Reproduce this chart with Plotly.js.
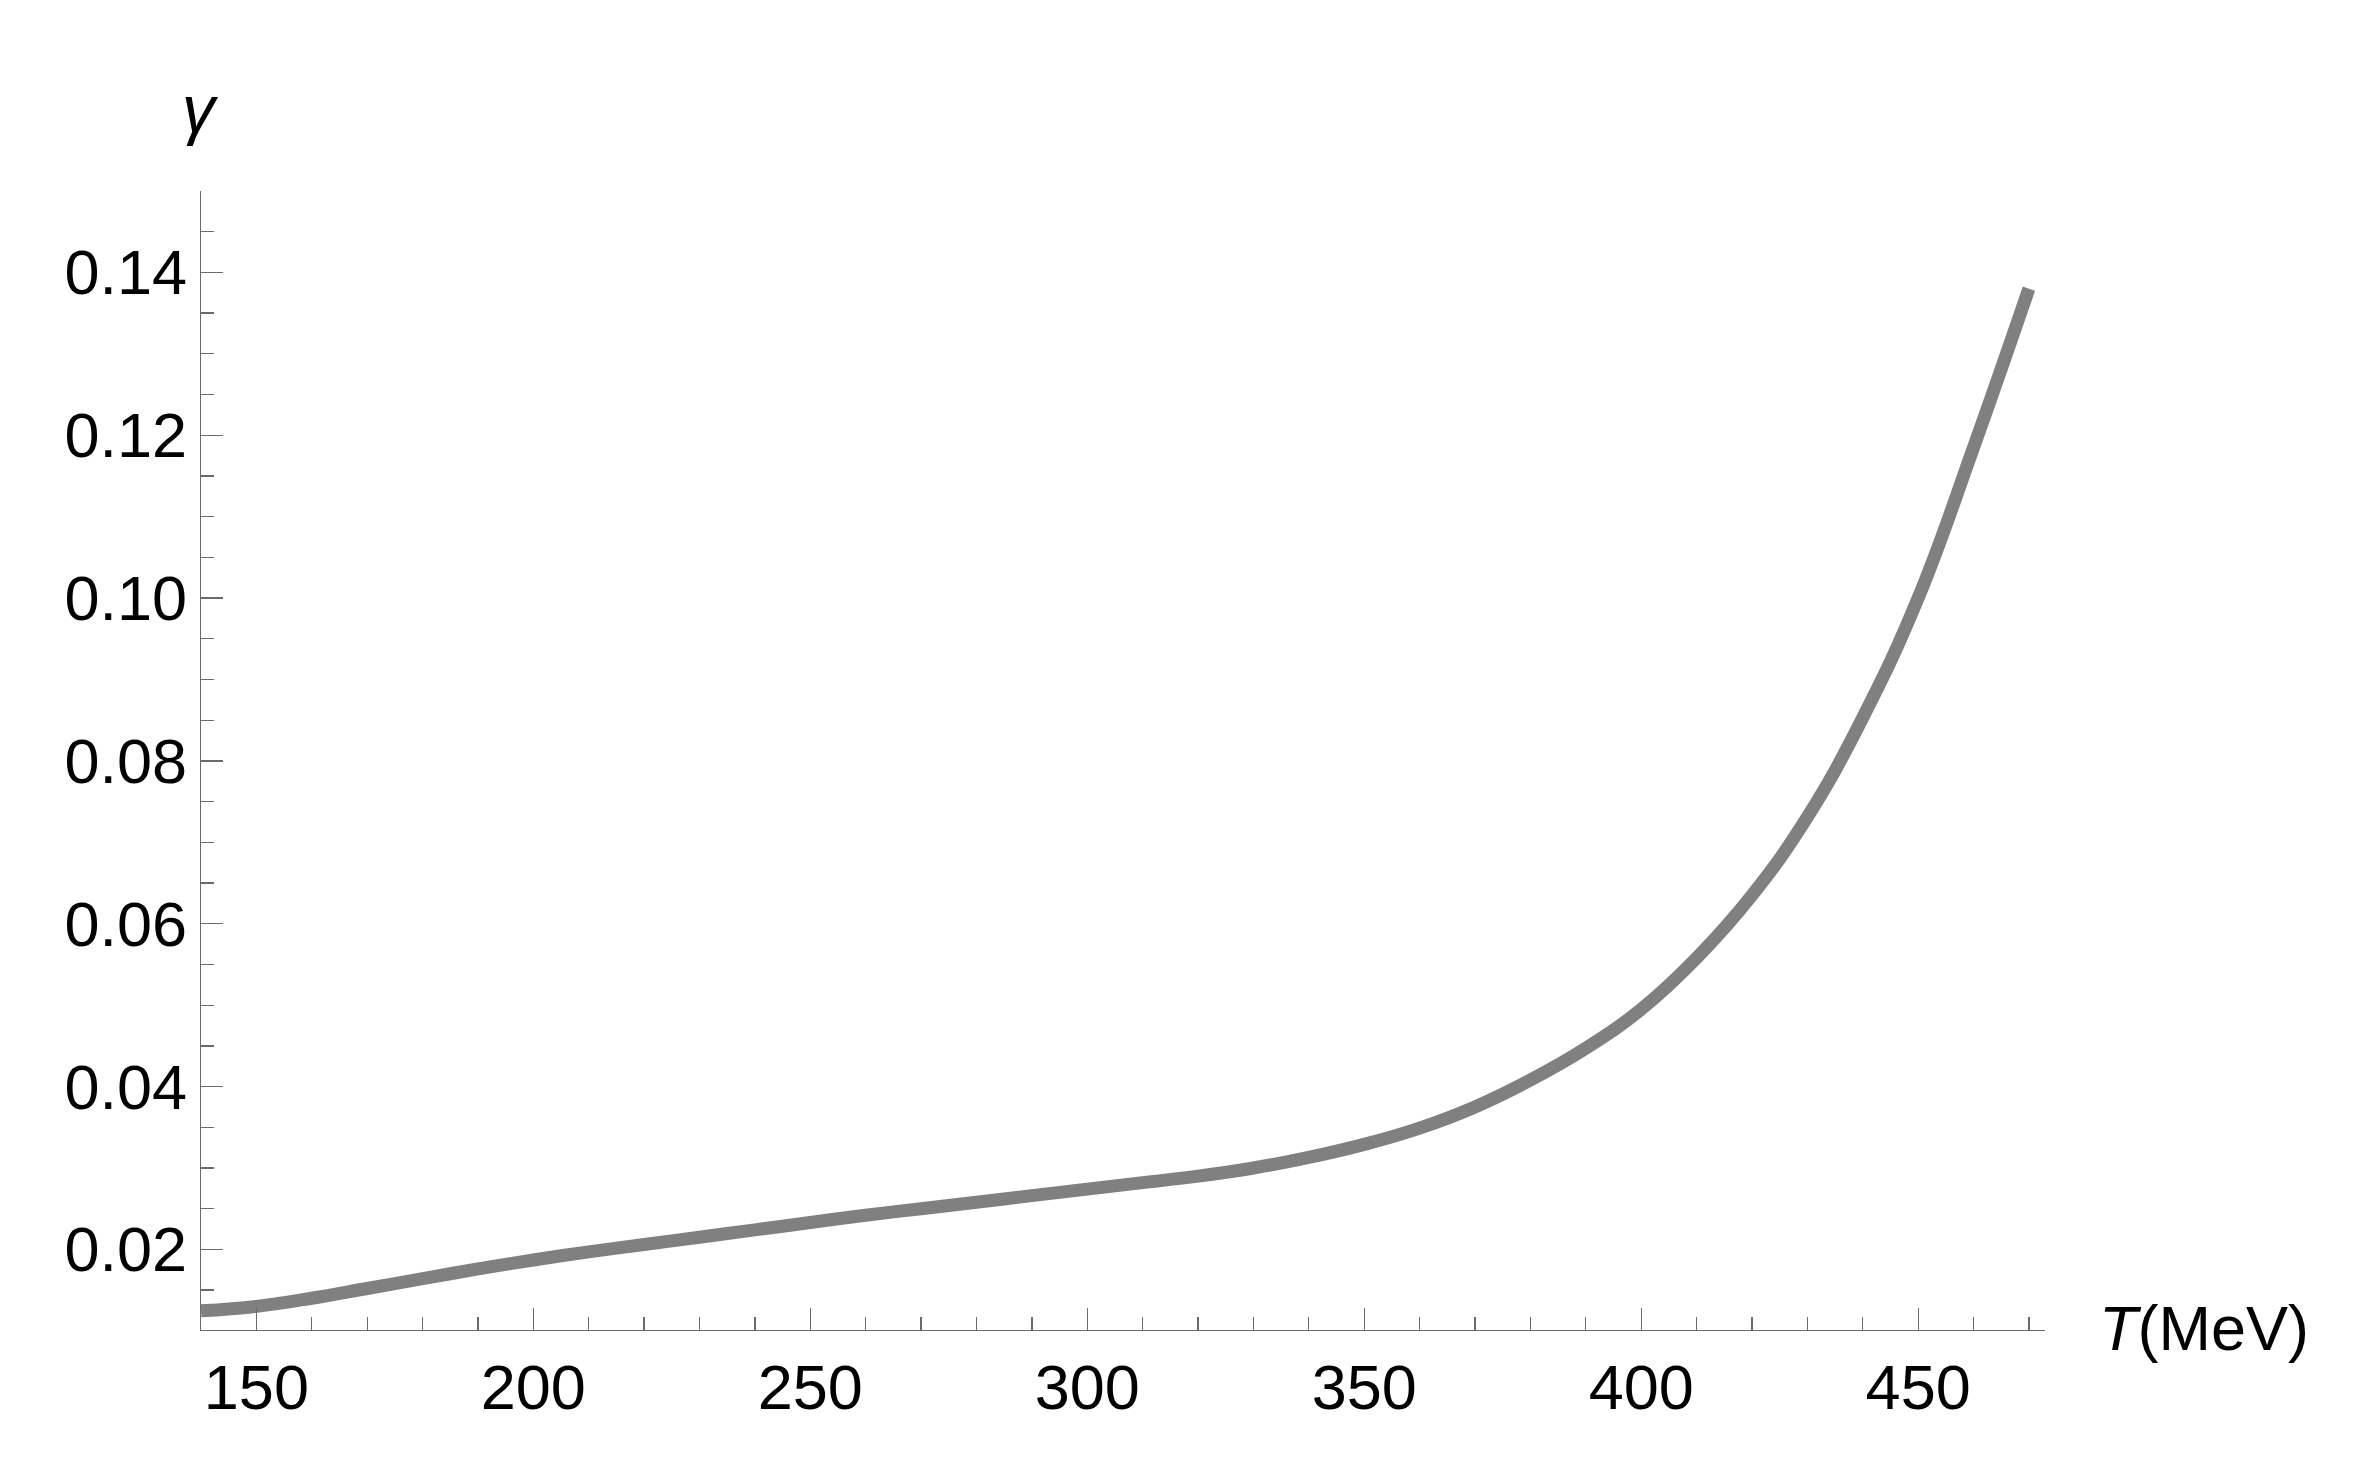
<!DOCTYPE html>
<html>
<head>
<meta charset="utf-8">
<script src="https://cdn.plot.ly/plotly-3.0.1.min.js"></script>
<style>
  html, body { margin: 0; padding: 0; background: #ffffff; }
  #chart { width: 2357px; height: 1459px; }
</style>
</head>
<body>
<div id="chart"></div>
<script>
// temperature T (MeV) and gamma
const temperature = [140, 150, 160, 170, 180, 190, 200, 210, 220, 230, 240, 250,
                     260, 270, 280, 290, 300, 310, 320, 330, 340, 350, 360, 370,
                     380, 390, 400, 410, 420, 430, 440, 450, 460, 470];
const gammaValues = [0.01245, 0.0130, 0.0140, 0.0152, 0.0164, 0.0176, 0.0187, 0.0197,
                     0.0206, 0.0215, 0.0224, 0.0233, 0.0242, 0.0250, 0.0258, 0.0266,
                     0.0274, 0.0282, 0.0290, 0.0300, 0.0313, 0.0329, 0.0349, 0.0375,
                     0.0408, 0.0447, 0.0495, 0.0558, 0.0635, 0.0731, 0.0853, 0.1000,
                     0.1185, 0.1380];

const xTickVals = [150, 200, 250, 300, 350, 400, 450];
const yTickVals = [0.02, 0.04, 0.06, 0.08, 0.10, 0.12, 0.14];
const yTickText = ['0.02', '0.04', '0.06', '0.08', '0.10', '0.12', '0.14'];

const axisGray = '#6b6b6b';
const labelFont = { family: 'Liberation Sans, Arial, sans-serif', size: 63, color: '#000000' };

const curve = {
    x: temperature,
    y: gammaValues,
    type: 'scatter',
    mode: 'lines',
    line: { color: '#808080', width: 13, shape: 'spline', smoothing: 1.2 },
    hoverinfo: 'skip',
    showlegend: false
};

const layout = {
    width: 2357,
    height: 1459,
    margin: { l: 201, r: 312, t: 191, b: 129 },
    paper_bgcolor: '#ffffff',
    plot_bgcolor: '#ffffff',
    showlegend: false,
    xaxis: {
        range: [140, 472.9],
        showgrid: false,
        zeroline: false,
        showline: true,
        linecolor: axisGray,
        linewidth: 1.3,
        ticks: 'inside',
        ticklen: 22,
        tickwidth: 1.3,
        tickcolor: axisGray,
        tickvals: xTickVals,
        ticktext: xTickVals.map(String),
        tickfont: labelFont,
        ticklabelstandoff: 2,
        minor: { dtick: 10, tick0: 140, ticks: 'inside', ticklen: 13, tickwidth: 1.3, tickcolor: axisGray, showgrid: false }
    },
    yaxis: {
        range: [0.0101, 0.15],
        showgrid: false,
        zeroline: false,
        showline: true,
        linecolor: axisGray,
        linewidth: 1.3,
        ticks: 'inside',
        ticklen: 22,
        tickwidth: 1.3,
        tickcolor: axisGray,
        tickvals: yTickVals,
        ticktext: yTickText,
        tickfont: labelFont,
        ticklabelstandoff: 0,
        minor: { dtick: 0.005, tick0: 0, ticks: 'inside', ticklen: 13, tickwidth: 1.3, tickcolor: axisGray, showgrid: false }
    },
    annotations: [
        {
            text: '<i>γ</i>',
            xref: 'paper', yref: 'paper',
            x: 0, y: 1,
            xshift: -1, yshift: 82,
            xanchor: 'center', yanchor: 'middle',
            showarrow: false,
            font: { family: 'Liberation Sans, Arial, sans-serif', size: 66, color: '#000000' }
        },
        {
            text: '<i>T</i>(MeV)',
            xref: 'paper', yref: 'paper',
            x: 1, y: 0,
            xshift: 52, yshift: 2,
            xanchor: 'left', yanchor: 'middle',
            showarrow: false,
            font: { family: 'Liberation Sans, Arial, sans-serif', size: 63, color: '#000000' }
        }
    ]
};

Plotly.newPlot('chart', [curve], layout, { staticPlot: true, displayModeBar: false });
</script>
</body>
</html>
